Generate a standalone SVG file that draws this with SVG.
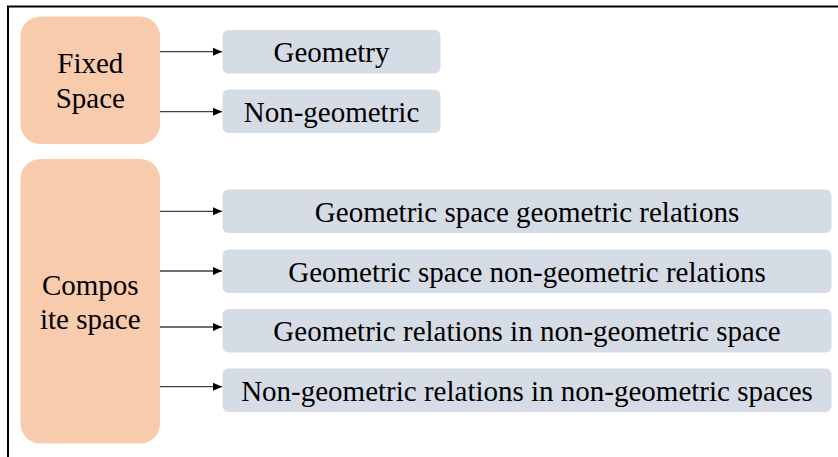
<svg xmlns="http://www.w3.org/2000/svg" width="838" height="457" viewBox="0 0 838 457">
<defs>
<marker id="ah" markerWidth="10" markerHeight="10" refX="9" refY="5" orient="auto" markerUnits="userSpaceOnUse">
<path d="M0,1 L9,5 L0,9 Z" fill="#000"/>
</marker>
<style>
.src{fill:#F8CBAD}
.dst{fill:#D6DCE5}
text{font-family:'Liberation Serif','DejaVu Serif',serif;font-size:29px;fill:#000;text-anchor:middle}
.c{stroke:#404040;stroke-width:1.3;fill:none;marker-end:url(#ah)}
</style>
</defs>
<rect width="838" height="457" fill="#fff"/>
<path d="M8,470 L8,6.5 L850,6.5" fill="none" stroke="#000" stroke-width="2"/>
<g id="fixed"><rect class="src" x="20.5" y="16.5" width="139.5" height="127.5" rx="20"/><text x="90.3" y="73" font-family="Liberation Serif">Fixed</text><text x="90.3" y="108" font-family="Liberation Serif">Space</text></g>
<g id="geometry"><rect class="dst" x="222.5" y="30" width="218" height="43.5" rx="6"/><text x="331.5" y="62" font-family="Liberation Serif">Geometry</text></g>
<g id="nongeo"><rect class="dst" x="222.5" y="89.5" width="218" height="43.5" rx="6"/><text x="331.5" y="121.5" font-family="Liberation Serif">Non-geometric</text></g>
<g id="composite"><rect class="src" x="20.5" y="159" width="139.5" height="284.5" rx="20"/><text x="90.3" y="295" font-family="Liberation Serif">Compos</text><text x="90.3" y="329" font-family="Liberation Serif">ite space</text></g>
<g id="r1"><rect class="dst" x="222.5" y="189.5" width="609" height="43.5" rx="6"/><text x="527" y="221.5" font-family="Liberation Serif">Geometric space geometric relations</text></g>
<g id="r2"><rect class="dst" x="222.5" y="249.5" width="609" height="43.5" rx="6"/><text x="527" y="281.5" font-family="Liberation Serif">Geometric space non-geometric relations</text></g>
<g id="r3"><rect class="dst" x="222.5" y="309" width="609" height="43.5" rx="6"/><text x="527" y="341" font-family="Liberation Serif">Geometric relations in non-geometric space</text></g>
<g id="r4"><rect class="dst" x="222.5" y="368.5" width="609" height="43.5" rx="6"/><text x="527" y="400.5" font-family="Liberation Serif">Non-geometric relations in non-geometric spaces</text></g>
<g id="connectors">
<line class="c" x1="160" y1="51.7" x2="222" y2="51.7"/>
<line class="c" x1="160" y1="111.7" x2="222" y2="111.7"/>
<line class="c" x1="160" y1="211.3" x2="222" y2="211.3"/>
<line class="c" x1="160" y1="271" x2="222" y2="271"/>
<line class="c" x1="160" y1="327" x2="222" y2="327"/>
<line class="c" x1="160" y1="386.7" x2="222" y2="386.7"/>
</g>
</svg>
